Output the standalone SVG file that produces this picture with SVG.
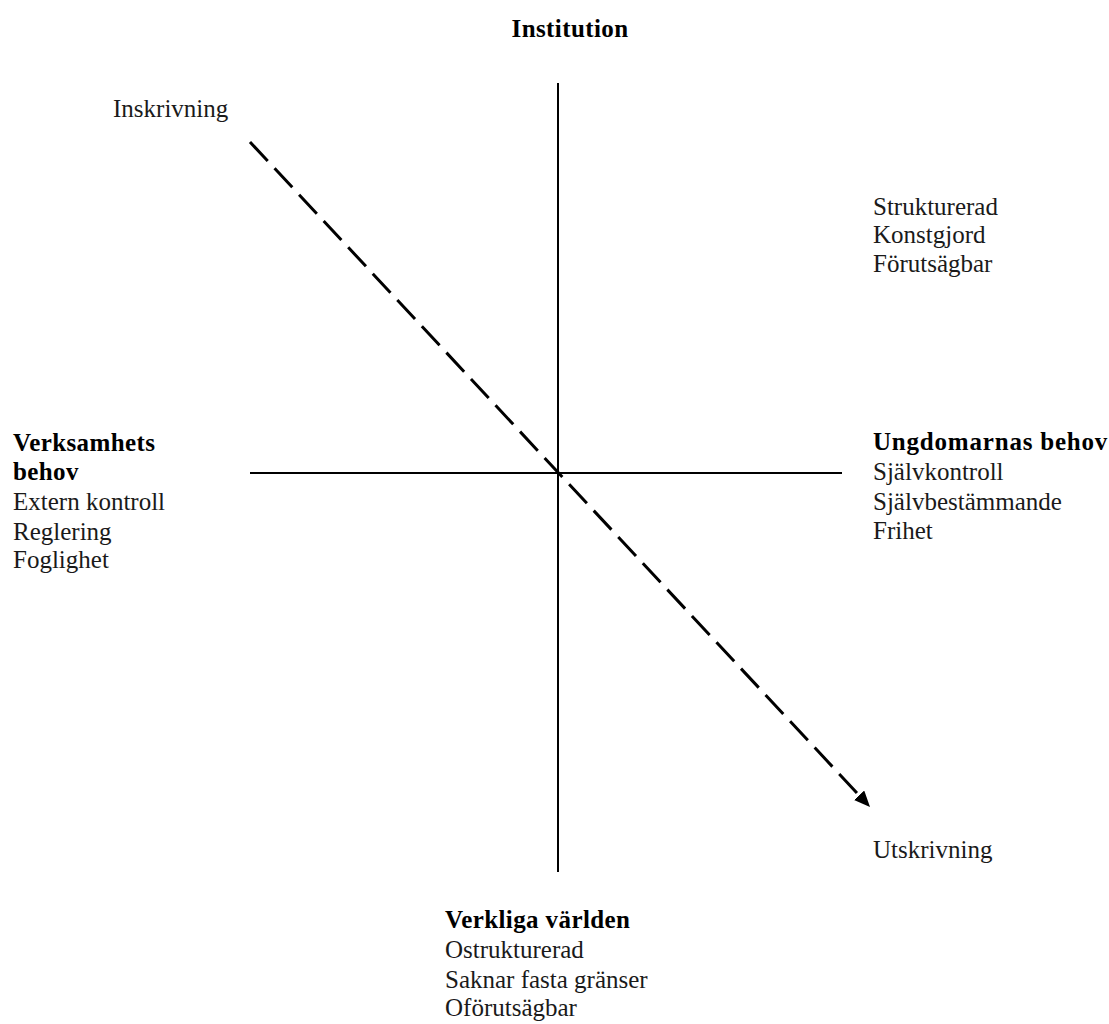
<svg xmlns="http://www.w3.org/2000/svg" width="1109" height="1024" viewBox="0 0 1109 1024">
<style>
text{font-family:"Liberation Serif","DejaVu Serif",serif;font-size:25px;fill:#1a1a1a}
.b{font-weight:bold;fill:#000;letter-spacing:0.4px}
.axis{stroke:#000;stroke-width:2;fill:none}
.dash{stroke:#000;stroke-width:3;stroke-dasharray:26,10;fill:none}
</style>
<defs>
<marker id="ah" markerWidth="18" markerHeight="14" refX="11" refY="7" orient="auto" markerUnits="userSpaceOnUse" viewBox="0 0 18 14">
<path d="M0,0 L16,7 L0,14 z" fill="#000"/>
</marker>
</defs>
<g id="connectors">
<line class="axis" x1="558" y1="83" x2="558" y2="872"/>
<line class="axis" x1="250" y1="473" x2="842" y2="473"/>
<line class="dash" x1="250" y1="142" x2="866.6" y2="803.3" marker-end="url(#ah)"/>
</g>
<g id="institution"><text class="b" x="570" y="37" text-anchor="middle">Institution</text></g>
<g id="inskrivning"><text x="113" y="117">Inskrivning</text></g>
<g id="top-right"><text x="873" y="215">Strukturerad</text><text x="873" y="243">Konstgjord</text><text x="873" y="272">Förutsägbar</text></g>
<g id="verksamhet"><text class="b" x="13" y="451">Verksamhets</text><text class="b" x="13" y="480">behov</text><text x="13" y="510">Extern kontroll</text><text x="13" y="540">Reglering</text><text x="13" y="568">Foglighet</text></g>
<g id="ungdomar"><text class="b" x="873" y="450" style="letter-spacing:0.8px">Ungdomarnas behov</text><text x="873" y="480">Självkontroll</text><text x="873" y="510">Självbestämmande</text><text x="873" y="539">Frihet</text></g>
<g id="utskrivning"><text x="873" y="858">Utskrivning</text></g>
<g id="verkliga"><text class="b" x="445" y="928">Verkliga världen</text><text x="445" y="958">Ostrukturerad</text><text x="445" y="988">Saknar fasta gränser</text><text x="445" y="1016">Oförutsägbar</text></g>
</svg>
